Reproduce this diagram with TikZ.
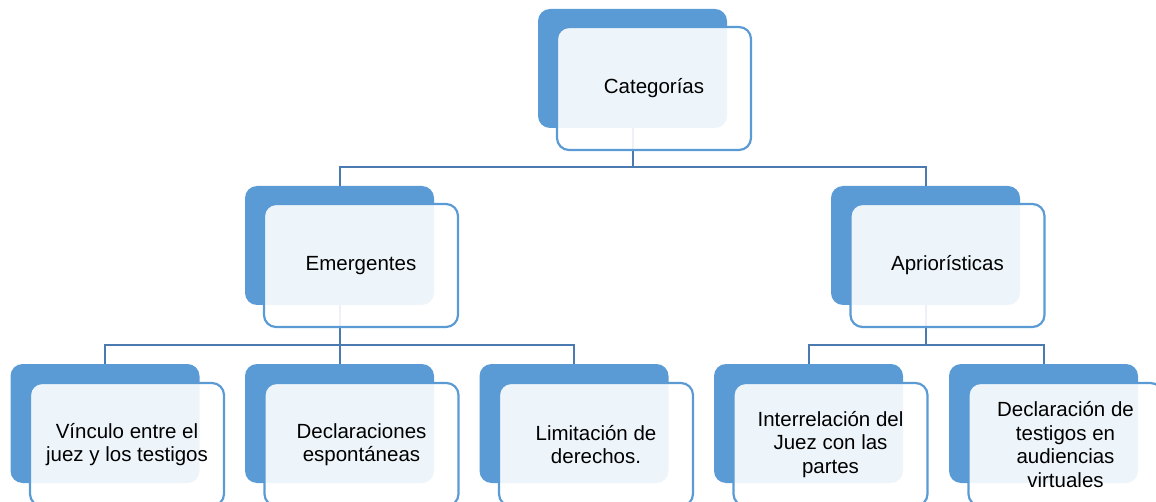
\documentclass[tikz,border=0pt]{standalone}
\usepackage{fontspec}
\setmainfont{Liberation Sans}
\definecolor{boxblue}{HTML}{5B9BD5}
\definecolor{lineblue}{HTML}{4A7AB0}
\begin{document}
\begin{tikzpicture}[x=1pt, y=-1pt,
	   backbox/.style={rectangle, rounded corners=12pt, fill=boxblue, minimum width=189pt, minimum height=119pt, inner sep=0pt},
	   frontbox/.style={rectangle, rounded corners=12pt, draw=boxblue, line width=2.2pt, fill=white, fill opacity=0.9, text opacity=1, minimum width=194pt, minimum height=123pt, align=center, font=\fontsize{20.5}{23.5}\selectfont},
	   conn/.style={draw=lineblue, line width=2pt}]
	   \useasboundingbox (0, 0) rectangle (1156, 502);
	   % joints of the tree lines
	   \coordinate (jtop) at (632.5, 167);
	   \coordinate (jemer) at (339.5, 345);
	   \coordinate (japri) at (925.5, 345);
	   % back boxes
	   \node [backbox] (catb) at (632.5, 68.5) {};
	   \node [backbox] (emerb) at (339.5, 245.5) {};
	   \node [backbox] (aprib) at (925.5, 245.5) {};
	   \node [backbox] (vincb) at (105, 423.5) {};
	   \node [backbox] (declb) at (339.5, 423.5) {};
	   \node [backbox] (limb) at (574, 423.5) {};
	   \node [backbox] (interb) at (808.5, 423.5) {};
	   \node [backbox] (testb) at (1043.5, 423.5) {};
	   % connectors, under the front boxes
	   \draw [conn] (catb.south) -- (jtop);
	   \draw [conn] (jtop) -| (emerb.north);
	   \draw [conn] (jtop) -| (aprib.north);
	   \draw [conn] (emerb.south) -- (jemer);
	   \draw [conn] (jemer) -| (vincb.north);
	   \draw [conn] (jemer) -- (declb.north);
	   \draw [conn] (jemer) -| (limb.north);
	   \draw [conn] (aprib.south) -- (japri);
	   \draw [conn] (japri) -| (interb.north);
	   \draw [conn] (japri) -| (testb.north);
	   % front boxes with the texts
	   \node [frontbox] (cat) at (654, 88.5) {Categorías};
	   \node [frontbox] (emer) at (361, 265.5) {Emergentes};
	   \node [frontbox] (apri) at (947.5, 265.5) {Apriorísticas};
	   \node [frontbox] (vinc) at (127, 444.5) {Vínculo entre el\\juez y los testigos};
	   \node [frontbox] (decl) at (361.5, 444.5) {Declaraciones\\espontáneas};
	   \node [frontbox] (lim) at (596, 444.5) {Limitación de\\derechos.};
	   \node [frontbox] (inter) at (830.5, 444.5) {Interrelación del\\Juez con las\\partes};
	   \node [frontbox] (test) at (1065.5, 444.5) {Declaración de\\testigos en\\audiencias\\virtuales};
	\end{tikzpicture}
\end{document}
